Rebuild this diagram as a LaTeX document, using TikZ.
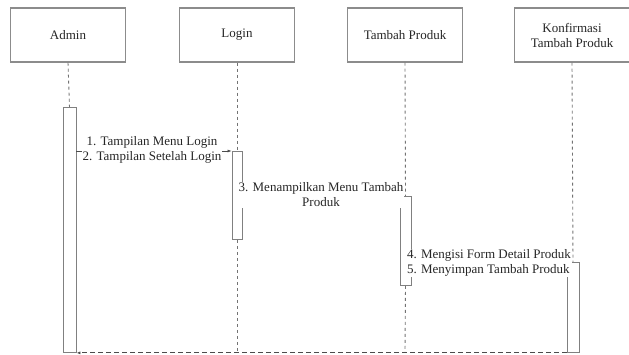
\documentclass[tikz,border=0pt]{standalone}
\usepackage{fontspec}
\setmainfont{Liberation Serif}
\usetikzlibrary{arrows.meta}
\begin{document}
\begin{tikzpicture}[x=1pt,y=-1pt,
  txt/.style={font=\fontsize{13}{15}\selectfont, text=black!85},
  actor/.style={draw=black!45, line width=1.3pt, fill=white, minimum width=115pt,
    minimum height=54pt, inner sep=0pt, align=center, txt},
  bar/.style={draw=black!50, line width=0.9pt, fill=white, minimum width=12pt,
    inner sep=0pt, anchor=north},
  life/.style={draw=black!55, line width=0.9pt, dash pattern=on 3pt off 3pt},
  msg/.style={draw=black!70, line width=0.6pt, -{Latex[length=4pt,width=3pt]}},
  ret/.style={draw=black!70, line width=0.9pt, dash pattern=on 5pt off 3pt, -{Latex[length=4pt,width=3pt]}},
  lbl/.style={fill=white, inner sep=1pt, align=center, txt}]
\useasboundingbox (0,0) rectangle (629,355);

% participants
\node[actor] (admin)  at (68,35)  {Admin};
\node[actor] (login)  at (237,35) {Login};
\node[actor] (tambah) at (405,35) {Tambah Produk};
\node[actor] (konf)   at (572,35) {Konfirmasi\\Tambah Produk};

% activation bars
\node[bar, minimum width=13pt, minimum height=245pt] (barA) at (69.5,107) {};
\node[bar, minimum width=10pt, minimum height=88pt]  (barL) at (237,151) {};
\node[bar, minimum width=11pt, minimum height=89pt]  (barT) at (405.5,196) {};
\node[bar, minimum width=12pt, minimum height=90pt]  (barK) at (573,262) {};

% lifelines
\coordinate (endL) at (237,352);
\coordinate (endT) at (405,352);
\draw[life] (admin.south) -- (barA.north);
\draw[life] (login.south) -- (barL.north);
\draw[life] (barL.south) -- (endL);
\draw[life] (tambah.south) -- (barT.north);
\draw[life] (barT.south) -- (endT);
\draw[life] (konf.south) -- (barK.north);

% messages
\draw[msg] (barA.east |- barL.north) -- (barL.north west);
\draw[msg] (barL.east |- barT.north) -- (barT.north west);
\draw[msg] (barT.east |- barK.north) -- (barK.north west);
\draw[ret] (barK.south west) -- (barA.south east);

% message labels
\node[lbl] (l12) at (152,150) {1. Tampilan Menu Login\\2. Tampilan Setelah Login};
\node[lbl] (l3)  at (321,195) {3. Menampilkan Menu Tambah\\Produk};
\node[lbl, align=left] (l45) at (489,263) {4. Mengisi Form Detail Produk\\5. Menyimpan Tambah Produk};
\end{tikzpicture}
\end{document}
